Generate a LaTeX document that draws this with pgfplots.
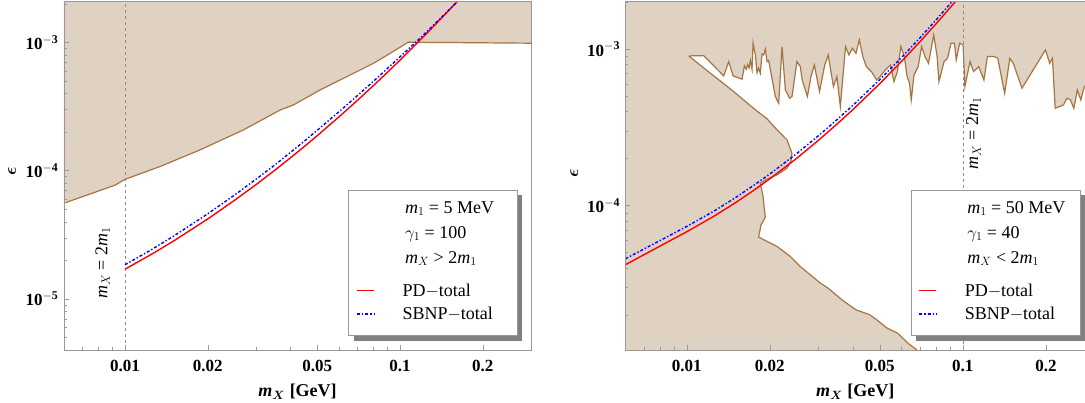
\documentclass[border=0pt]{standalone}
\usepackage{amsmath}
\usepackage{fontspec}
\setmainfont{Liberation Serif}
\usepackage{pgfplots}
\pgfplotsset{compat=1.18}
\definecolor{brfill}{RGB}{224,210,194}
\definecolor{brline}{RGB}{166,116,66}
\begin{document}
\begin{tikzpicture}
\path (0pt,0pt) rectangle (1085pt,402pt);
\begin{axis}[
  scale only axis, xmode=log, ymode=log, axis on top,
  at={(64pt,52pt)}, anchor=south west, width=467.3pt, height=348.5pt,
  xmin=0.006, xmax=0.3, ymin=4e-6, ymax=2.08e-3,
  xtick={0.01,0.02,0.05,0.1,0.2},
  xticklabels={0.01,0.02,0.05,0.1,0.2},
  minor xtick={0.007,0.008,0.009,0.03,0.04,0.06,0.07,0.08,0.09,0.3},
  ytick={1e-5,1e-4,1e-3},
  yticklabels={\textbf{10}$^{\mathbf{-5}}$,\textbf{10}$^{\mathbf{-4}}$,\textbf{10}$^{\mathbf{-3}}$},
  minor ytick={4e-6,5e-6,6e-6,7e-6,8e-6,9e-6,2e-5,3e-5,4e-5,5e-5,6e-5,7e-5,8e-5,9e-5,2e-4,3e-4,4e-4,5e-4,6e-4,7e-4,8e-4,9e-4,2e-3},
  xtick pos=left, ytick pos=left,
  tick align=inside, major tick length=5pt, minor tick length=3pt,
  axis line style={black!40},
  tick style={black!40},
  ticklabel style={font=\fontsize{17}{20}\selectfont\bfseries},
  xticklabel style={anchor=center, yshift=-16pt},
  yticklabel style={anchor=east, xshift=-2pt},
  xlabel={\textbf{\textit{m}}$_{\boldsymbol{X}}$ \textbf{[GeV]}},
  x label style={at={(axis description cs:0.5,-0.12)}, anchor=center, font=\fontsize{18}{21}\selectfont},
  ylabel={$\boldsymbol{\epsilon}$},
  y label style={at={(axis description cs:-0.111,0.512)}, anchor=center, font=\fontsize{18}{21}\selectfont},
  legend cell align=left,
  legend style={at={(axis description cs:0.6187,0.2026)}, anchor=north west, draw=none, fill=none,
    font=\fontsize{18}{21}\selectfont, row sep=5.5pt, column sep=25.8pt},
]
\addplot[fill=brfill, draw=brline, line width=1.2pt, forget plot] coordinates {
(0.005,4.86e-5) (0.006,5.57e-5) (0.0092,7.7e-5) (0.01,8.55e-5) (0.0134,1.075e-4)
(0.01875,1.45e-4) (0.0269,2.07e-4) (0.0367,2.97e-4) (0.041,3.25e-4) (0.0513,4.26e-4)
(0.0642,5.41e-4) (0.0802,6.87e-4) (0.0922,8.22e-4) (0.107,1.0e-3) (0.15,9.96e-4)
(0.3,9.84e-4) (0.4,9.8e-4) (0.4,1e-2) (0.005,1e-2)};
\addplot[black!45, line width=0.7pt, dashed, forget plot] coordinates {(0.01,1e-6) (0.01,1e-2)};
\addplot[red, line width=1.4pt] coordinates {
(0.01,1.704e-5) (0.0125,2.231e-5) (0.015,2.82e-5) (0.02,4.20e-5) (0.025,5.86e-5)
(0.03,7.80e-5) (0.035,1.004e-4) (0.04,1.260e-4) (0.045,1.548e-4) (0.05,1.871e-4)
(0.06,2.623e-4) (0.07,3.527e-4) (0.08,4.594e-4) (0.09,5.835e-4) (0.1,7.263e-4)
(0.11,8.89e-4) (0.12,1.072e-3) (0.13,1.277e-3) (0.14,1.506e-3) (0.15,1.759e-3)
(0.16,2.037e-3) (0.17,2.343e-3)};
\addlegendentry{PD$-$total}
\addplot[blue, line width=1.4pt, dash dot] coordinates {
(0.01,1.846e-5) (0.0125,2.424e-5) (0.015,3.078e-5) (0.02,4.605e-5) (0.025,6.44e-5)
(0.03,8.59e-5) (0.035,1.103e-4) (0.04,1.388e-4) (0.045,1.705e-4) (0.05,2.061e-4)
(0.06,2.876e-4) (0.07,3.841e-4) (0.08,4.957e-4) (0.09,6.252e-4) (0.1,7.711e-4)
(0.11,9.31e-4) (0.12,1.110e-3) (0.13,1.310e-3) (0.14,1.531e-3) (0.15,1.771e-3)
(0.16,2.037e-3) (0.17,2.343e-3)};
\addlegendentry{SBNP$-$total}
\node[rotate=90, font=\fontsize{18}{21}\selectfont] at (axis cs:0.0083,1.91e-5) {\textit{m}$_X$ = 2\textit{m}$_1$};
\fill[black!50] (axis description cs:0.620,0.0267) rectangle (axis description cs:0.981,0.4448);
\draw[fill=white, draw=black!40] (axis description cs:0.6093,0.041) rectangle (axis description cs:0.9703,0.4591);
\node[anchor=base west, inner sep=0pt, font=\fontsize{18}{21}\selectfont] at (axis description cs:0.7295,0.3923) {\textit{m}$_1$ = 5 MeV};
\node[anchor=base west, inner sep=0pt, font=\fontsize{18}{21}\selectfont] at (axis description cs:0.7295,0.3204) {$\gamma_1$ = 100};
\node[anchor=base west, inner sep=0pt, font=\fontsize{18}{21}\selectfont] at (axis description cs:0.7295,0.2487) {\textit{m}$_X$ > 2\textit{m}$_1$};
\end{axis}
\begin{axis}[
  scale only axis, xmode=log, ymode=log, axis on top,
  at={(625.6pt,52pt)}, anchor=south west, width=459.4pt, height=348.5pt,
  xmin=0.006, xmax=0.2765, ymin=1.19e-5, ymax=2.02e-3,
  xtick={0.01,0.02,0.05,0.1,0.2},
  xticklabels={0.01,0.02,0.05,0.1,0.2},
  minor xtick={0.007,0.008,0.009,0.03,0.04,0.06,0.07,0.08,0.09},
  ytick={1e-4,1e-3},
  yticklabels={\textbf{10}$^{\mathbf{-4}}$,\textbf{10}$^{\mathbf{-3}}$},
  minor ytick={2e-5,3e-5,4e-5,5e-5,6e-5,7e-5,8e-5,9e-5,2e-4,3e-4,4e-4,5e-4,6e-4,7e-4,8e-4,9e-4,2e-3},
  xtick pos=left, ytick pos=left,
  tick align=inside, major tick length=5pt, minor tick length=3pt,
  axis line style={black!40},
  tick style={black!40},
  ticklabel style={font=\fontsize{17}{20}\selectfont\bfseries},
  xticklabel style={anchor=center, yshift=-16pt},
  yticklabel style={anchor=east, xshift=-2pt},
  xlabel={\textbf{\textit{m}}$_{\boldsymbol{X}}$ \textbf{[GeV]}},
  x label style={at={(axis description cs:0.5,-0.12)}, anchor=center, font=\fontsize{18}{21}\selectfont},
  ylabel={$\boldsymbol{\epsilon}$},
  y label style={at={(axis description cs:-0.1115,0.507)}, anchor=center, font=\fontsize{18}{21}\selectfont},
  axis background/.style={fill=brfill},
  legend cell align=left,
  legend style={at={(axis description cs:0.631,0.2026)}, anchor=north west, draw=none, fill=none,
    font=\fontsize{18}{21}\selectfont, row sep=5.5pt, column sep=25.8pt},
]
\addplot[fill=white, draw=brline, line width=1.2pt, forget plot] coordinates {
(0.01017,9.06e-4) (0.01152,9.10e-4) (0.01361,6.75e-4) (0.01419,8.33e-4) (0.01472,6.75e-4)
(0.01586,6.43e-4) (0.01618,7.82e-4) (0.01644,7.45e-4) (0.01662,7.97e-4) (0.01682,7.59e-4)
(0.01700,8.46e-4) (0.01724,7.45e-4) (0.01739,1.092e-3) (0.01773,9.19e-4) (0.01797,7.09e-4)
(0.01821,7.56e-4) (0.01847,7.02e-4) (0.01874,9.33e-4) (0.01900,9.19e-4) (0.01926,1.0e-3)
(0.01954,8.33e-4) (0.01981,8.46e-4) (0.02094,4.98e-4) (0.02153,4.52e-4) (0.02214,1.039e-3)
(0.02276,5.49e-4) (0.02359,4.86e-4) (0.02405,4.98e-4) (0.02507,8.33e-4) (0.02578,7.74e-4)
(0.02620,6.36e-4) (0.02736,4.98e-4) (0.02817,6.68e-4) (0.02899,7.93e-4) (0.03027,5.36e-4)
(0.03161,7.93e-4) (0.03254,9.19e-4) (0.03398,5.77e-4) (0.03498,6.68e-4) (0.03600,4.30e-4)
(0.03758,1.039e-3) (0.03868,9.19e-4) (0.03982,1.014e-3) (0.04100,9.42e-4) (0.04219,1.147e-3)
(0.04343,8.97e-4) (0.04470,7.74e-4) (0.04667,7.19e-4) (0.04873,6.36e-4) (0.05016,6.68e-4)
(0.05237,7.37e-4) (0.05468,7.93e-4) (0.05629,6.21e-4) (0.05794,7.19e-4) (0.05963,1.039e-3)
(0.06138,8.97e-4) (0.06283,6.68e-4) (0.06410,6.06e-4) (0.06503,4.74e-4) (0.06655,6.85e-4)
(0.06889,7.74e-4) (0.07090,1.039e-3) (0.07297,8.97e-4) (0.07510,8.13e-4) (0.07843,1.234e-3)
(0.08072,8.97e-4) (0.08190,6.21e-4) (0.08552,8.34e-4) (0.08802,8.75e-4) (0.09061,1.092e-3)
(0.09326,1.092e-3) (0.09462,8.54e-4) (0.09739,1.092e-3) (0.1002,1.065e-3) (0.1017,5.77e-4)
(0.1062,8.34e-4) (0.1093,7.19e-4) (0.1141,7.74e-4) (0.1192,6.36e-4) (0.1227,8.97e-4)
(0.1300,8.97e-4) (0.1338,8.75e-4) (0.1417,5.23e-4) (0.1480,8.75e-4) (0.1523,8.13e-4)
(0.1637,5.63e-4) (0.1992,9.90e-4) (0.2063,8.13e-4) (0.2111,8.75e-4) (0.2160,4.19e-4)
(0.2314,4.40e-4) (0.2382,4.86e-4) (0.2452,4.74e-4) (0.2524,4.19e-4) (0.2598,5.49e-4)
(0.2674,4.74e-4) (0.2753,5.77e-4) (0.2833,5.91e-4) (0.35,6e-4) (0.35,1e-6)
(0.075,1e-6) (0.075,1.0e-5) (0.0679,1.195e-5) (0.0632,1.318e-5) (0.0579,1.528e-5)
(0.0531,1.644e-5) (0.0487,1.858e-5) (0.046,2.0e-5) (0.041,2.15e-5) (0.0365,2.49e-5)
(0.0325,2.96e-5) (0.03046,3.19e-5) (0.02802,3.60e-5) (0.02578,4.07e-5) (0.02372,4.72e-5)
(0.02123,5.47e-5) (0.01954,5.89e-5) (0.01821,6.28e-5) (0.01859,7.52e-5) (0.01926,8.43e-5)
(0.01911,9.39e-5) (0.0189,1.141e-4) (0.01847,1.39e-4) (0.01954,1.475e-4) (0.02123,1.571e-4)
(0.02307,1.734e-4) (0.02385,1.912e-4) (0.02405,2.16e-4) (0.02307,2.63e-4) (0.02123,3.05e-4)
(0.0195,3.6e-4) (0.01773,4.09e-4) (0.01479,5.36e-4) (0.01218,7.02e-4) (0.01017,9.06e-4)};
\addplot[black!45, line width=0.7pt, dashed, forget plot] coordinates {(0.1,1e-6) (0.1,1e-2)};
\addplot[red, line width=1.4pt] coordinates {
(0.006,4.18e-5) (0.0075,5.17e-5) (0.01,6.79e-5) (0.0125,8.50e-5) (0.015,1.041e-4)
(0.0175,1.251e-4) (0.02,1.482e-4) (0.025,2.003e-4) (0.03,2.614e-4) (0.035,3.317e-4)
(0.04,4.113e-4) (0.05,6.018e-4) (0.06,8.366e-4) (0.07,1.119e-3) (0.08,1.455e-3)
(0.09,1.847e-3) (0.1,2.301e-3)};
\addlegendentry{PD$-$total}
\addplot[blue, line width=1.4pt, dash dot] coordinates {
(0.006,4.562e-5) (0.0075,5.617e-5) (0.01,7.343e-5) (0.0125,9.171e-5) (0.015,1.121e-4)
(0.0175,1.347e-4) (0.02,1.592e-4) (0.025,2.146e-4) (0.03,2.795e-4) (0.035,3.538e-4)
(0.04,4.377e-4) (0.05,6.389e-4) (0.06,8.862e-4) (0.07,1.185e-3) (0.08,1.541e-3)
(0.09,1.957e-3) (0.1,2.437e-3)};
\addlegendentry{SBNP$-$total}
\node[rotate=90, font=\fontsize{18}{21}\selectfont] at (axis cs:0.1093,2.9e-4) {\textit{m}$_X$ = 2\textit{m}$_1$};
\fill[black!50] (axis description cs:0.6323,0.0267) rectangle (axis description cs:1.0,0.4448);
\draw[fill=white, draw=black!40] (axis description cs:0.6215,0.041) rectangle (axis description cs:0.9893,0.4591);
\node[anchor=base west, inner sep=0pt, font=\fontsize{18}{21}\selectfont] at (axis description cs:0.7438,0.3923) {\textit{m}$_1$ = 50 MeV};
\node[anchor=base west, inner sep=0pt, font=\fontsize{18}{21}\selectfont] at (axis description cs:0.7438,0.3204) {$\gamma_1$ = 40};
\node[anchor=base west, inner sep=0pt, font=\fontsize{18}{21}\selectfont] at (axis description cs:0.7438,0.2487) {\textit{m}$_X$ < 2\textit{m}$_1$};
\end{axis}
\end{tikzpicture}
\end{document}
